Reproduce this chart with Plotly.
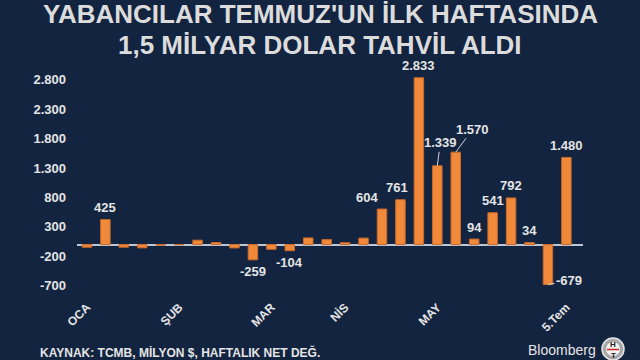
import plotly.graph_objects as go

# ---- data ----
weeks = list(range(1, 28))
values = [-45, 425, -45, -55, -10, -3, 75, 35, -57, -259, -80, -104, 113, 85, 32, 110,
          604, 761, 2833, 1339, 1570, 94, 541, 792, 34, -679, 1480]
month_ticks = [1, 6, 11, 15, 20, 27]
month_labels = ["OCA", "ŞUB", "MAR", "NİS", "MAY", "5.Tem"]
y_ticks = [-700, -200, 300, 800, 1300, 1800, 2300, 2800]
y_tick_labels = ["-700", "-200", "300", "800", "1.300", "1.800", "2.300", "2.800"]
labeled_weeks = [2, 10, 12, 17, 18, 19, 20, 21, 22, 23, 24, 25, 26, 27]

title_lines = ["YABANCILAR TEMMUZ'UN İLK HAFTASINDA", "1,5 MİLYAR DOLAR TAHVİL ALDI"]
source_text = "KAYNAK: TCMB, MİLYON $, HAFTALIK NET DEĞ."

# ---- style ----
BG = "#132440"
ORANGE = "#f08a3a"
TXT = "#e4e4e4"
FONT = "Liberation Sans, Arial, sans-serif"
W, H = 640, 360
L, R, T, B = 77, 57, 65, 63
PW, PH = W - L - R, H - T - B


def px(x):
    return (x - L) / PW


def py(y):
    return (H - B - y) / PH


def fmt(v):
    return f"{v:,}".replace(",", ".")


# label placement styles (pixel offsets)
label_style = {
    17: dict(xshift=-15),
    18: dict(xshift=-3),
    20: dict(arrow=(3, -23)),
    21: dict(arrow=(17, -23)),
    26: dict(arrow=(21, -4)),
}

fig = go.Figure(go.Bar(
    x=weeks, y=values,
    marker=dict(color=ORANGE, line=dict(color="#c8692a", width=1)),
    hoverinfo="skip",
))

annotations = []
for w in labeled_weeks:
    v = values[w - 1]
    st = label_style.get(w, {})
    if "arrow" in st:
        ax, ay = st["arrow"]
        annotations.append(dict(
            x=w, y=v, text=f"<b>{fmt(v)}</b>", showarrow=True, arrowhead=0,
            arrowwidth=1, arrowcolor="#cfd4dc", ax=ax, ay=ay,
            font=dict(family=FONT, size=13, color=TXT)))
    else:
        annotations.append(dict(
            x=w, y=v, text=f"<b>{fmt(v)}</b>", showarrow=False,
            yanchor="middle", yshift=12 if v >= 0 else -12,
            xshift=st.get("xshift", 0),
            font=dict(family=FONT, size=13, color=TXT)))

for line, yy in zip(title_lines, [14, 45]):
    annotations.append(dict(xref="paper", yref="paper", x=px(320), y=py(yy),
                            text=f"<b>{line}</b>", showarrow=False,
                            xanchor="center", yanchor="middle",
                            font=dict(family=FONT, size=26, color="#dcdcdc")))
annotations.append(dict(xref="paper", yref="paper", x=px(38), y=py(352),
                        text=f"<b>{source_text}</b>", showarrow=False,
                        xanchor="left", yanchor="middle",
                        font=dict(family=FONT, size=12, color=TXT)))
annotations.append(dict(xref="paper", yref="paper", x=px(598), y=py(350),
                        text="Bloomberg", showarrow=False,
                        xanchor="right", yanchor="middle",
                        font=dict(family=FONT, size=14, color=TXT)))
annotations.append(dict(xref="paper", yref="paper", x=px(613), y=py(344),
                        text="<b>H</b>", showarrow=False,
                        xanchor="center", yanchor="middle",
                        font=dict(family=FONT, size=8, color="#222222")))
annotations.append(dict(xref="paper", yref="paper", x=px(613), y=py(355),
                        text="<b>T</b>", showarrow=False,
                        xanchor="center", yanchor="middle",
                        font=dict(family=FONT, size=8, color="#222222")))

shapes = [
    dict(type="circle", xref="paper", yref="paper",
         x0=px(602), x1=px(624), y0=py(360), y1=py(338),
         fillcolor="#a8a8a8", line=dict(color="#e6e6e6", width=1.5), layer="below"),
    dict(type="circle", xref="paper", yref="paper",
         x0=px(606), x1=px(620), y0=py(356), y1=py(342),
         fillcolor="#f2f2f2", line=dict(width=0), layer="below"),
    dict(type="line", xref="paper", yref="paper",
         x0=px(607), x1=px(619), y0=py(349.5), y1=py(349.5),
         line=dict(color="#d02020", width=1.5)),
]

fig.update_layout(
    width=W, height=H,
    margin=dict(l=L, r=R, t=T, b=B),
    paper_bgcolor=BG, plot_bgcolor=BG,
    bargap=0.485,
    showlegend=False,
    annotations=annotations,
    shapes=shapes,
    xaxis=dict(range=[0.46, 27.9], tickmode="array", tickvals=month_ticks,
               ticktext=[f"<b>{t}</b>" for t in month_labels], tickangle=-45,
               showgrid=False, zeroline=False, showline=False, ticks="",
               tickfont=dict(family=FONT, size=12, color=TXT)),
    yaxis=dict(range=[-890, 3050], tickmode="array", tickvals=y_ticks,
               ticktext=[f"<b>{t}</b>" for t in y_tick_labels],
               showgrid=False, zeroline=True, zerolinecolor="#bcc6d4",
               zerolinewidth=2, showline=False, ticks="", ticklabelstandoff=10,
               tickfont=dict(family=FONT, size=13, color=TXT)),
)

fig.write_html("out.html", config={"displayModeBar": False},
               post_script="document.body.style.margin='0';document.body.style.background='#132440';")
